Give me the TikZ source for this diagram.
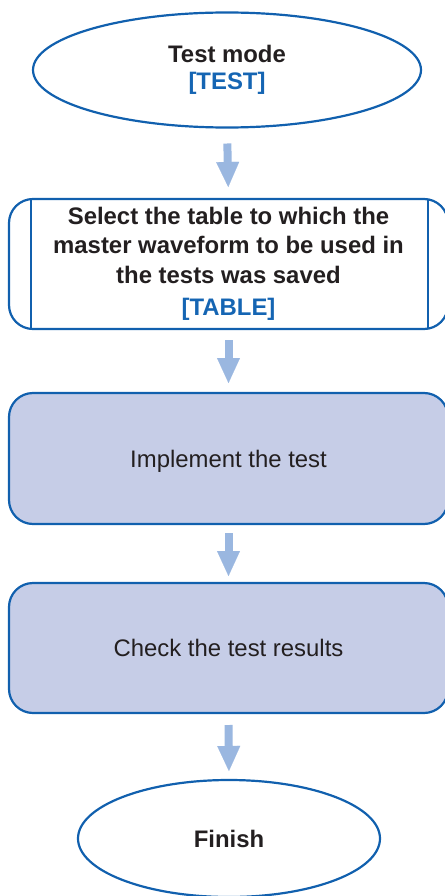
\documentclass[tikz,border=0pt]{standalone}
\usepackage{fontspec}
\setmainfont{Liberation Sans}
\usetikzlibrary{shapes.geometric,arrows.meta,calc}
\definecolor{lineblue}{HTML}{1160AE}
\definecolor{keyblue}{HTML}{1565B3}
\definecolor{arrowblue}{HTML}{9AB7E0}
\definecolor{boxfill}{HTML}{C6CDE7}
\definecolor{textdark}{HTML}{231F20}
\begin{document}
\begin{tikzpicture}[x=1pt,y=-1pt,
  every node/.style={font=\fontsize{23.9}{29.5}\selectfont, text=textdark, align=center, inner sep=0pt, outer sep=0pt},
  term/.style={ellipse, draw=lineblue, line width=2.2pt, font=\fontsize{23.9}{29}\selectfont\bfseries},
  selbox/.style={rectangle, rounded corners=24pt, draw=lineblue, line width=2.2pt, minimum width=439pt, minimum height=130pt, font=\fontsize{23.9}{29.5}\selectfont\bfseries},
  actbox/.style={rectangle, rounded corners=24pt, draw=lineblue, fill=boxfill, line width=2.2pt, minimum width=439pt, minimum height=131pt, text depth=0pt},
  flowarrow/.style={draw=arrowblue, line width=8pt, -{Triangle[width=23pt,length=25pt,line width=0.1pt]}, shorten <=12pt, shorten >=10pt}
]
\useasboundingbox (0,0) rectangle (444,896);

\node[term, minimum width=388pt, minimum height=115pt] (start) at (227,70)
  {Test mode\\[-2pt]\textcolor{keyblue}{[TEST]}};

\node[selbox] (table) at (228.5,264)
  {Select the table to which the\\master waveform to be used in\\the tests was saved\\[3pt]\textcolor{keyblue}{[TABLE]}};
\draw[lineblue, line width=2.2pt] ($(table.north west)+(22,0)$) -- ($(table.south west)+(22,0)$);
\draw[lineblue, line width=2.2pt] ($(table.north east)+(-20,0)$) -- ($(table.south east)+(-20,0)$);

\node[actbox] (impl) at (228.5,458.5) {Implement the test};

\node[actbox, minimum height=130pt] (check) at (228.5,648) {Check the test results};

\node[term, minimum width=302pt, minimum height=117pt] (finish) at (229,838.5) {Finish};

\draw[flowarrow, shorten <=16pt, shorten >=12pt] (start.south) -- (table.north);
\draw[flowarrow, shorten <=11pt, shorten >=10pt] (table.south) -- (impl.north);
\draw[flowarrow, shorten <=9pt, shorten >=7pt] (impl.south) -- (check.north);
\draw[flowarrow, shorten <=12pt, shorten >=9pt] (check.south) -- (finish.north);
\end{tikzpicture}
\end{document}
